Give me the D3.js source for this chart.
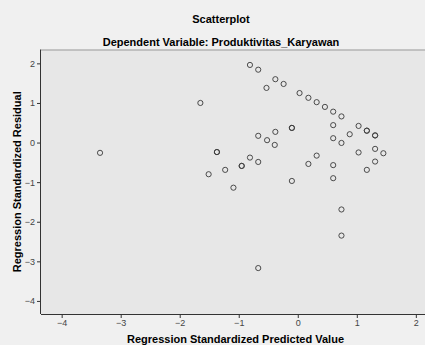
<!DOCTYPE html>
<html>
<head>
<meta charset="utf-8">
<script src="https://cdn.jsdelivr.net/npm/d3@7"></script>
<style>
  body { margin: 0; background: #f0f0f0; }
  svg { display: block; font-family: "Liberation Sans", Arial, sans-serif; }
</style>
</head>
<body>
<svg id="chart" width="425" height="345"></svg>
<script>
// predicted value (x) and residual (y), standardized
const predicted = [-0.81, -0.67, -0.38, -0.24, -0.53, -1.65, 0.03, 0.18, 0.32, 0.46,
  0.60, 0.74, 0.60, 1.03, 1.17, 1.17, 1.31, 1.31, -0.10, -0.10,
  0.88, 0.60, 0.74, 1.31, 1.45, 1.03, 0.32, 0.18, 0.60, 1.31,
  1.17, -0.10, 0.60, 0.74, 0.74, -0.67, -3.35, -0.38, -0.67, -0.52,
  -0.39, -1.37, -1.37, -0.81, -0.67, -0.95, -0.95, -1.23, -1.51, -1.09];
const residual = [1.96, 1.84, 1.60, 1.48, 1.38, 1.00, 1.25, 1.13, 1.02, 0.90,
  0.78, 0.66, 0.44, 0.42, 0.30, 0.30, 0.18, 0.18, 0.37, 0.37,
  0.21, 0.11, -0.01, -0.16, -0.27, -0.25, -0.33, -0.54, -0.57, -0.48,
  -0.69, -0.97, -0.90, -1.69, -2.35, -3.17, -0.26, 0.27, 0.17, 0.06,
  -0.06, -0.24, -0.24, -0.38, -0.49, -0.59, -0.59, -0.69, -0.80, -1.14];
const xTicks = [-4, -3, -2, -1, 0, 1, 2];
const yTicks = [2, 1, 0, -1, -2, -3, -4];

const svg = d3.select('#chart');

const x = d3.scaleLinear().domain([-4.35, 2.24]).range([41, 430]);
const y = d3.scaleLinear().domain([-4.33, 2.35]).range([314, 49.5]);

// plot background
svg.append('rect')
  .attr('x', x.range()[0]).attr('y', y.range()[1])
  .attr('width', x.range()[1] - x.range()[0])
  .attr('height', y.range()[0] - y.range()[1])
  .attr('fill', '#e7e7e7');

// top border of the frame
svg.append('line')
  .attr('x1', x.range()[0]).attr('x2', x.range()[1])
  .attr('y1', y.range()[1] + 0.5).attr('y2', y.range()[1] + 0.5)
  .attr('stroke', '#9a9a9a');

// axes
const xAxis = d3.axisBottom(x).tickValues(xTicks).tickSize(4).tickPadding(2).tickFormat(d3.format('d'));
const yAxis = d3.axisLeft(y).tickValues(yTicks).tickSize(4).tickPadding(2).tickFormat(d3.format('d'));

const gx = svg.append('g').attr('transform', 'translate(0,' + y.range()[0] + ')').call(xAxis);
const gy = svg.append('g').attr('transform', 'translate(' + x.range()[0] + ',0)').call(yAxis);

[gx, gy].forEach(function(g) {
  g.select('.domain').attr('stroke', '#333');
  g.selectAll('.tick line').attr('stroke', '#333');
  g.selectAll('.tick text')
    .style('font-size', '9px')
    .style('font-family', '"Liberation Sans", Arial, sans-serif')
    .attr('fill', '#444');
});
gx.select('.domain').attr('d', 'M' + x.range()[0] + ',0.5H' + x.range()[1]);
gy.select('.domain').attr('d', 'M-0.5,' + y.range()[1] + 'V' + y.range()[0]);

// points
svg.append('g')
  .selectAll('circle')
  .data(predicted.map(function(v, i) { return [v, residual[i]]; }))
  .enter()
  .append('circle')
  .attr('cx', function(d) { return x(d[0]); })
  .attr('cy', function(d) { return y(d[1]); })
  .attr('r', 2.6)
  .attr('fill', 'none')
  .attr('stroke', '#3a3a3a')
  .attr('stroke-width', 0.9);

// titles
svg.append('text')
  .attr('x', 221).attr('y', 23)
  .attr('text-anchor', 'middle')
  .style('font-size', '11px').style('font-weight', 'bold')
  .text('Scatterplot');

svg.append('text')
  .attr('x', 221).attr('y', 46)
  .attr('text-anchor', 'middle')
  .style('font-size', '11px').style('font-weight', 'bold')
  .text('Dependent Variable: Produktivitas_Karyawan');

svg.append('text')
  .attr('x', (x.range()[0] + x.range()[1]) / 2).attr('y', 343)
  .attr('text-anchor', 'middle')
  .style('font-size', '11px').style('font-weight', 'bold')
  .text('Regression Standardized Predicted Value');

svg.append('text')
  .attr('transform', 'translate(21,' + (y.range()[0] + y.range()[1]) / 2 + ') rotate(-90)')
  .attr('text-anchor', 'middle')
  .style('font-size', '11px').style('font-weight', 'bold')
  .text('Regression Standardized Residual');
</script>
</body>
</html>
